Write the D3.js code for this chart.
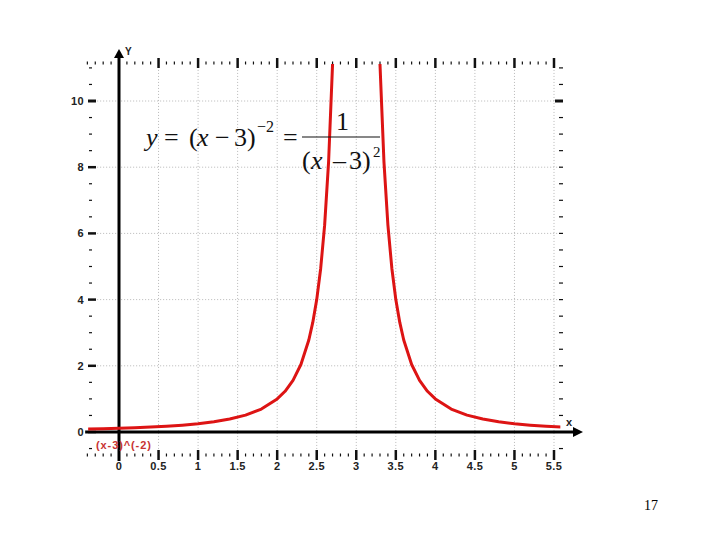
<!DOCTYPE html>
<html>
<head>
<meta charset="utf-8">
<script src="https://cdn.jsdelivr.net/npm/d3@7"></script>
<style>
  body { margin: 0; background: #fff; }
  .lbl { font-family: Arial, "Liberation Sans", sans-serif; font-weight: bold; font-size: 11px; fill: #222; letter-spacing: 0.4px; }
  .eq { font-family: "Times New Roman", "Liberation Serif", serif; font-size: 26px; fill: #111; }
</style>
</head>
<body>
<div id="chart"></div>
<script>
var width = 720,
    height = 540;

// curve y = (x-3)^-2, two branches
var leftX = [-0.4, -0.2, 0, 0.2, 0.4, 0.6, 0.8, 1, 1.2, 1.4, 1.6, 1.8, 2, 2.1, 2.2, 2.3, 2.4, 2.45, 2.5, 2.55, 2.6, 2.65, 2.7, 2.75];
var leftY = [0.087, 0.098, 0.111, 0.128, 0.148, 0.174, 0.207, 0.25, 0.309, 0.391, 0.51, 0.694, 1, 1.23, 1.56, 2.04, 2.78, 3.31, 4, 4.94, 6.25, 8.16, 11.1, 16];
var rightX = [3.25, 3.3, 3.35, 3.4, 3.45, 3.5, 3.55, 3.6, 3.7, 3.8, 3.9, 4, 4.2, 4.4, 4.6, 4.8, 5, 5.2, 5.4, 5.6];
var rightY = [16, 11.1, 8.16, 6.25, 4.94, 4, 3.31, 2.78, 2.04, 1.56, 1.23, 1, 0.694, 0.51, 0.391, 0.309, 0.25, 0.207, 0.174, 0.148];

var xTickLabels = ['0', '0.5', '1', '1.5', '2', '2.5', '3', '3.5', '4', '4.5', '5', '5.5'];
var yTickLabels = ['0', '2', '4', '6', '8', '10'];

var x = d3.scaleLinear().domain([0, 5.5]).range([119, 554]);
var y = d3.scaleLinear().domain([0, 10]).range([432, 101]);

var xMin = -0.39, xMax = 5.58, yMin = -0.69, yMax = 11.12;

var svg = d3.select('#chart').append('svg')
    .attr('width', width)
    .attr('height', height);

svg.append('defs').append('clipPath').attr('id', 'plotclip')
  .append('rect')
    .attr('x', x(xMin)).attr('y', y(yMax))
    .attr('width', x(xMax) - x(xMin))
    .attr('height', y(yMin) - y(yMax));

// grid
var grid = svg.append('g').attr('class', 'grid');
grid.selectAll('.vgrid')
    .data(xTickLabels.map(Number))
  .enter().append('line')
    .attr('x1', function(d) { return x(d); })
    .attr('x2', function(d) { return x(d); })
    .attr('y1', y(yMax))
    .attr('y2', y(yMin))
    .style('stroke', '#b8b8b8')
    .style('stroke-dasharray', '1,2');
grid.selectAll('.hgrid')
    .data(yTickLabels.map(Number).filter(function(d) { return d > 0; }))
  .enter().append('line')
    .attr('x1', x(xMin))
    .attr('x2', x(xMax))
    .attr('y1', function(d) { return y(d); })
    .attr('y2', function(d) { return y(d); })
    .style('stroke', '#b8b8b8')
    .style('stroke-dasharray', '1,2');

// tick rows (top and bottom) and tick columns (left and right)
var xMinor = d3.range(-4, 56).map(function(i) { return i / 10; });
var yMinor = d3.range(-1, 23).map(function(i) { return i / 2; });

function isMajorX(d) { return Math.abs(d * 2 - Math.round(d * 2)) < 1e-6; }
function isMajorY(d) { return Math.abs(d / 2 - Math.round(d / 2)) < 1e-6; }

var ticks = svg.append('g').attr('class', 'ticks').style('stroke', '#111');

[63, 455].forEach(function(row) {
  ticks.selectAll(null)
      .data(xMinor.filter(function(d) { return Math.abs(d) > 1e-6; }))
    .enter().append('line')
      .attr('x1', function(d) { return x(d); })
      .attr('x2', function(d) { return x(d); })
      .attr('y1', function(d) { return isMajorX(d) ? row - 5 : row - 1.5; })
      .attr('y2', function(d) { return isMajorX(d) ? row + 5 : row + 1.5; })
      .style('stroke-width', function(d) { return isMajorX(d) ? 2.5 : 1.2; });
});

ticks.selectAll(null)
    .data(yMinor)
  .enter().append('line')
    .attr('x1', function(d) { return isMajorY(d) ? 88 : 89; })
    .attr('x2', function(d) { return isMajorY(d) ? 96 : 92; })
    .attr('y1', function(d) { return y(d); })
    .attr('y2', function(d) { return y(d); })
    .style('stroke-width', function(d) { return isMajorY(d) && d > 8 ? 3 : (isMajorY(d) ? 2.5 : 1.2); });

ticks.selectAll(null)
    .data(yMinor.filter(function(d) { return Math.abs(d) > 1e-6; }))
  .enter().append('line')
    .attr('x1', function(d) { return d === 10 ? 555 : 559; })
    .attr('x2', 563)
    .attr('y1', function(d) { return y(d); })
    .attr('y2', function(d) { return y(d); })
    .style('stroke-width', function(d) { return d === 10 ? 3 : 1.2; });

// tick labels
svg.selectAll('.xlbl')
    .data(xTickLabels)
  .enter().append('text')
    .attr('class', 'lbl')
    .attr('x', function(d) { return x(+d); })
    .attr('y', 470)
    .attr('text-anchor', 'middle')
    .text(function(d) { return d; });

svg.selectAll('.ylbl')
    .data(yTickLabels)
  .enter().append('text')
    .attr('class', 'lbl')
    .attr('x', 84)
    .attr('y', function(d) { return y(+d) + 4; })
    .attr('text-anchor', 'end')
    .text(function(d) { return d; });

// axes
svg.append('line')
    .attr('x1', x(xMin) - 3).attr('x2', 576)
    .attr('y1', y(0)).attr('y2', y(0))
    .style('stroke', '#000').style('stroke-width', 3);
svg.append('path')
    .attr('d', 'M583,' + y(0) + 'L573,' + (y(0) - 5) + 'L573,' + (y(0) + 5) + 'Z')
    .attr('fill', '#000');

svg.append('line')
    .attr('x1', x(0)).attr('x2', x(0))
    .attr('y1', 56).attr('y2', 461)
    .style('stroke', '#000').style('stroke-width', 3);
svg.append('path')
    .attr('d', 'M' + x(0) + ',49L' + (x(0) - 5) + ',58L' + (x(0) + 5) + ',58Z')
    .attr('fill', '#000');

svg.append('text').attr('class', 'lbl')
    .attr('x', 125).attr('y', 55)
    .style('font-size', '10px')
    .text('Y');
svg.append('text').attr('class', 'lbl')
    .attr('x', 566).attr('y', 426)
    .style('font-size', '11px')
    .text('x');

// curve
var line = d3.line()
    .x(function(d) { return x(d[0]); })
    .y(function(d) { return y(d[1]); });

var curve = svg.append('g').attr('clip-path', 'url(#plotclip)');
[[leftX, leftY], [rightX, rightY]].forEach(function(b) {
  curve.append('path')
      .datum(d3.zip(b[0], b[1]))
      .attr('d', line)
      .attr('fill', 'none')
      .style('stroke', '#dd1414')
      .style('stroke-width', 3)
      .style('stroke-linejoin', 'round');
});

svg.append('text').attr('class', 'lbl')
    .attr('x', 96).attr('y', 449)
    .style('font-size', '11px')
    .style('letter-spacing', '0.9px')
    .style('fill', '#c83232')
    .text('(x-3)^(-2)');

// equation
var eq = svg.append('g').attr('class', 'eq');
function piece(t, px, py, italic, size) {
  eq.append('text')
      .attr('class', 'eq')
      .attr('x', px).attr('y', py)
      .style('font-style', italic ? 'italic' : 'normal')
      .style('font-size', size ? size + 'px' : null)
      .text(t);
}
piece('y', 146, 146, true);
piece('=', 164, 146);
piece('(', 189, 146);
piece('x', 197, 146, true);
piece('\u2212', 215, 146);
piece('3', 234, 146);
piece(')', 247, 146);
piece('\u22122', 257, 132, false, 16);
piece('=', 283, 146);
piece('1', 336, 130);
eq.append('line')
    .attr('x1', 302).attr('x2', 380)
    .attr('y1', 137).attr('y2', 137)
    .style('stroke', '#111').style('stroke-width', 1.2);
piece('(', 302, 169);
piece('x', 311, 169, true);
piece('\u2013', 333, 169);
piece('3', 349, 169);
piece(')', 362, 169);
piece('2', 373, 157, false, 15);

svg.append('text')
    .attr('x', 651).attr('y', 510)
    .attr('text-anchor', 'middle')
    .style('font-family', '"Times New Roman", "Liberation Serif", serif')
    .style('font-size', '14px')
    .text('17');
</script>
</body>
</html>
